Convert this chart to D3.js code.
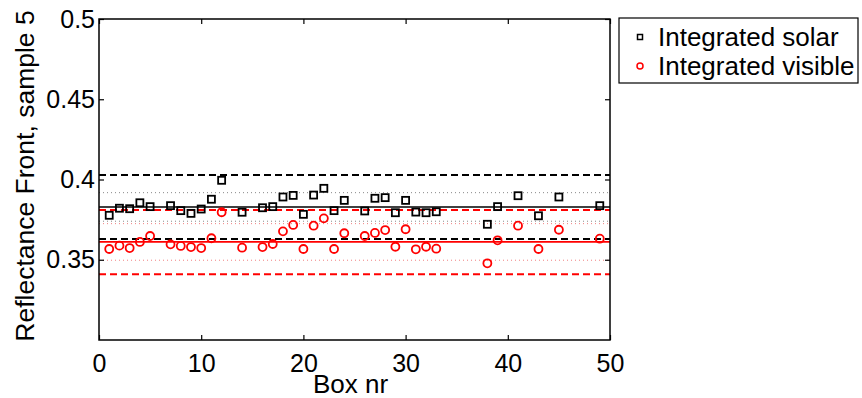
<!DOCTYPE html>
<html>
<head>
<meta charset="utf-8">
<script src="https://cdn.jsdelivr.net/npm/d3@7"></script>
<style>
  body { margin: 0; background: #fff; }
  text { font-family: "Liberation Sans", Arial, sans-serif; }
</style>
</head>
<body>
<div id="plot"></div>
<script>
// box numbers that have a measurement
var boxes = [1, 2, 3, 4, 5, 7, 8, 9, 10, 11, 12, 14, 16, 17, 18, 19, 20, 21, 22, 23, 24,
             26, 27, 28, 29, 30, 31, 32, 33, 38, 39, 41, 43, 45, 49];

var solar = [0.3777, 0.3821, 0.3818, 0.3855, 0.3831, 0.3837, 0.3806, 0.3789, 0.3816, 0.3877, 0.3995,
             0.3796, 0.3824, 0.3831, 0.3891, 0.3901, 0.3783, 0.3903, 0.3945, 0.3806, 0.3870,
             0.3804, 0.3883, 0.3887, 0.3793, 0.3870, 0.3797, 0.3793, 0.3799, 0.3721, 0.3831,
             0.3899, 0.3774, 0.3891, 0.3837];

var visible = [0.3567, 0.3588, 0.3573, 0.3611, 0.3648, 0.3596, 0.3586, 0.3579, 0.3573, 0.3634, 0.3796,
               0.3575, 0.3579, 0.3598, 0.3677, 0.3717, 0.3567, 0.3712, 0.3758, 0.3567, 0.3665,
               0.3648, 0.3667, 0.3685, 0.3581, 0.3690, 0.3565, 0.3581, 0.3569, 0.3478, 0.3621,
               0.3712, 0.3567, 0.3687, 0.3631];

// mean, +-1 sigma (dotted), +-2 sigma (dashed)
var solarMean = 0.3829, solarDotted = [0.3918, 0.3740], solarDashed = [0.4028, 0.3629];
var visibleMean = 0.3611, visibleDotted = [0.3725, 0.3497], visibleDashed = [0.3810, 0.3409];

var xTicks = [0, 10, 20, 30, 40, 50];
var yTicks = [0.35, 0.4, 0.45, 0.5];
var legendLabels = ["Integrated solar", "Integrated visible"];

var W = 862, H = 398;
var margin = { left: 99, right: 610, top: 19, bottom: 340 };

var svg = d3.select("#plot").append("svg")
    .attr("width", W)
    .attr("height", H);

var x = d3.scaleLinear().domain([0, 50]).range([margin.left, margin.right]);
var y = d3.scaleLinear().domain([0.3, 0.5]).range([margin.bottom, margin.top]);

// horizontal reference lines
function hline(v, color, width, dash) {
    svg.append("line")
        .attr("x1", x(0)).attr("x2", x(50))
        .attr("y1", y(v)).attr("y2", y(v))
        .attr("stroke", color)
        .attr("stroke-width", width)
        .attr("stroke-dasharray", dash);
}

solarDotted.forEach(function (v) { hline(v, "#888", 1, "1,3"); });
visibleDotted.forEach(function (v) { hline(v, "#f08080", 1, "1,3"); });
solarDashed.forEach(function (v) { hline(v, "#000", 2, "7,4"); });
visibleDashed.forEach(function (v) { hline(v, "#ff0000", 2, "7,4"); });
hline(solarMean, "#000", 1.5, null);
hline(visibleMean, "#ff0000", 1.8, null);

// points
var pts = boxes.map(function (b, i) { return { b: b, s: solar[i], v: visible[i] }; });

svg.append("g").selectAll("rect")
    .data(pts)
    .enter().append("rect")
    .attr("x", function (d) { return x(d.b) - 3.5; })
    .attr("y", function (d) { return y(d.s) - 3.5; })
    .attr("width", 7).attr("height", 7)
    .attr("fill", "none")
    .attr("stroke", "#000")
    .attr("stroke-width", 1.8);

svg.append("g").selectAll("circle")
    .data(pts)
    .enter().append("circle")
    .attr("cx", function (d) { return x(d.b); })
    .attr("cy", function (d) { return y(d.v); })
    .attr("r", 4)
    .attr("fill", "none")
    .attr("stroke", "#ff0000")
    .attr("stroke-width", 1.8);

// axes
var xAxis = d3.axisBottom(x).tickValues(xTicks).tickSize(-5).tickPadding(9).tickFormat(d3.format("d"));
var yAxis = d3.axisLeft(y).tickValues(yTicks).tickSize(-5).tickPadding(8)
    .tickFormat(function (d) { return String(+d.toFixed(2)); });

var gx = svg.append("g").attr("transform", "translate(0," + margin.bottom + ")").call(xAxis);
var gy = svg.append("g").attr("transform", "translate(" + margin.left + ",0)").call(yAxis);
var gxt = svg.append("g").attr("transform", "translate(0," + margin.top + ")")
    .call(d3.axisTop(x).tickValues(xTicks).tickSize(-5).tickFormat(""));
var gyr = svg.append("g").attr("transform", "translate(" + margin.right + ",0)")
    .call(d3.axisRight(y).tickValues(yTicks).tickSize(-5).tickFormat(""));

[gx, gy, gxt, gyr].forEach(function (g) {
    g.select(".domain").remove();
    g.selectAll(".tick line").attr("stroke", "#000").attr("stroke-width", 1.2);
    g.selectAll("text").attr("fill", "#000").style("font-size", "25px");
});
gx.selectAll("text").attr("y", 14);
gy.selectAll("text").attr("x", -4);

svg.append("rect")
    .attr("x", margin.left).attr("y", margin.top)
    .attr("width", margin.right - margin.left).attr("height", margin.bottom - margin.top)
    .attr("fill", "none")
    .attr("stroke", "#000")
    .attr("stroke-width", 1.5);

// axis labels
svg.append("text")
    .attr("x", (margin.left + margin.right) / 2 - 4).attr("y", 393)
    .attr("text-anchor", "middle")
    .style("font-size", "26px")
    .text("Box nr");

svg.append("text")
    .attr("transform", "translate(34," + 176 + ") rotate(-90)")
    .attr("text-anchor", "middle")
    .style("font-size", "26.5px")
    .text("Reflectance Front, sample 5");

// legend
var lg = svg.append("g");
lg.append("rect")
    .attr("x", 619).attr("y", 18)
    .attr("width", 239).attr("height", 65)
    .attr("fill", "#fff")
    .attr("stroke", "#000")
    .attr("stroke-width", 1.2);

lg.append("rect")
    .attr("x", 637.5).attr("y", 34.5)
    .attr("width", 5).attr("height", 5)
    .attr("fill", "none").attr("stroke", "#000").attr("stroke-width", 1.5);
lg.append("circle")
    .attr("cx", 640).attr("cy", 66).attr("r", 3)
    .attr("fill", "none").attr("stroke", "#ff0000").attr("stroke-width", 1.5);

lg.selectAll("text.lab")
    .data(legendLabels)
    .enter().append("text")
    .attr("class", "lab")
    .attr("x", 658)
    .attr("y", function (d, i) { return 46 + i * 29; })
    .style("font-size", "26px")
    .text(function (d) { return d; });
</script>
</body>
</html>
